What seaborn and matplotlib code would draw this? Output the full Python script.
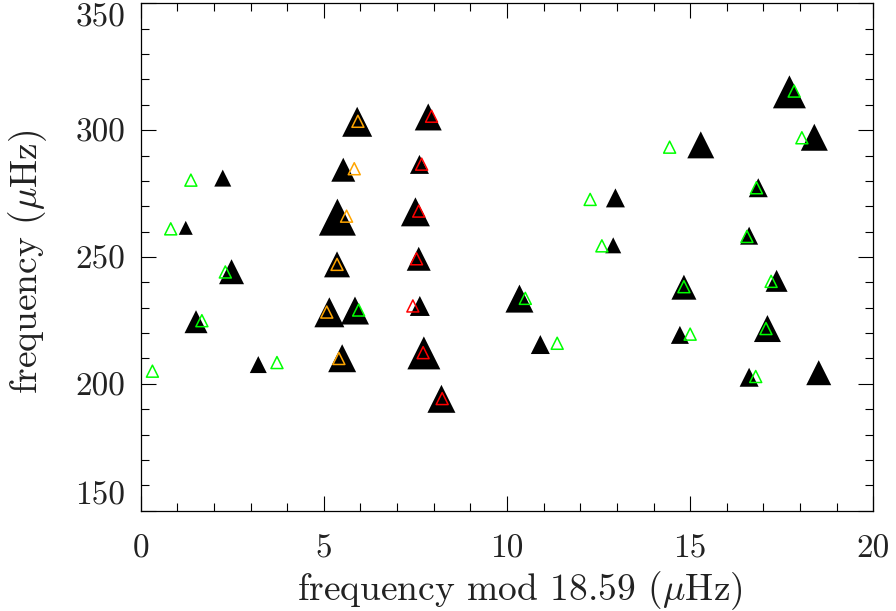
import numpy as np
import pandas as pd
import matplotlib
matplotlib.use("Agg")
import matplotlib.pyplot as plt
from matplotlib.ticker import MultipleLocator
import seaborn as sns

# Observed modes (filled black triangles, size ~ amplitude)
obs_x = [2.24, 1.23, 2.48, 5.91, 7.85, 5.53, 7.61, 5.37, 7.50, 5.36, 7.59, 5.15,
         5.85, 7.62, 1.51, 3.21, 5.50, 7.73, 8.21, 17.71, 18.39, 15.29, 16.86,
         12.96, 16.61, 12.90, 10.34, 10.91, 14.83, 17.36, 14.72, 17.11, 16.61, 18.51]
obs_y = [281.1, 261.5, 244.2, 303.3, 305.2, 284.4, 286.5, 265.7, 267.8, 247.1,
         249.3, 228.2, 228.9, 230.7, 224.5, 207.6, 210.1, 212.2, 194.1, 315.1,
         297.2, 294.2, 277.3, 273.3, 258.4, 254.6, 233.6, 215.5, 238.1, 240.6,
         219.3, 221.8, 202.6, 204.4]
obs_amp = [17, 14, 25, 30, 27, 24, 19, 37, 29, 26, 24, 30, 28, 20, 23, 17, 28,
           33, 28, 33, 27, 27, 19, 19, 18, 16, 28, 19, 25, 22, 18, 27, 19, 25]

# Model frequencies (open triangles)
l0_x = [1.37, 0.82, 2.31, 5.95, 1.67, 0.32, 3.72, 17.84, 18.05, 14.44, 16.81,
        12.27, 16.55, 12.59, 10.50, 11.37, 14.83, 17.21, 15.00, 17.07, 16.79]
l0_y = [280.3, 261.1, 244.1, 229.1, 224.9, 205.0, 208.4, 315.4, 297.0, 293.3,
        277.3, 272.7, 258.1, 254.4, 233.7, 216.0, 238.3, 240.4, 219.6, 221.8, 202.9]
l1a_x = [5.93, 5.83, 5.62, 5.36, 5.08, 5.41]
l1a_y = [303.5, 284.8, 266.1, 247.1, 228.3, 210.0]
l1b_x = [7.94, 7.67, 7.59, 7.53, 7.43, 7.71, 8.23]
l1b_y = [305.5, 286.6, 268.1, 249.3, 230.7, 212.3, 194.2]

x_ticks = [0, 5, 10, 15, 20]
y_ticks = [150, 200, 250, 300, 350]

sns.set_theme(style="white")
plt.rcParams["font.family"] = ["cmr10", "DejaVu Serif"]
plt.rcParams["mathtext.fontset"] = "cm"
plt.rcParams["axes.formatter.use_mathtext"] = True
plt.rcParams["axes.unicode_minus"] = False

TEXT = "#222222"

fig = plt.figure(figsize=(8.96, 6.11), dpi=100)
ax = fig.add_axes([140.7 / 896, 100.3 / 611, 732.6 / 896, 507.4 / 611])

PT_PER_AMP = 0.72
obs = pd.DataFrame({"x": obs_x, "y": obs_y,
                    "s": [(a * PT_PER_AMP) ** 2 for a in obs_amp]})
smin, smax = obs["s"].min(), obs["s"].max()
sns.scatterplot(data=obs, x="x", y="y", size="s", sizes=(smin, smax),
                size_norm=(smin, smax), marker="^", color="black",
                linewidth=0, legend=False, ax=ax, zorder=2)

open_s = (12 * PT_PER_AMP) ** 2
for xs, ys, col in [(l0_x, l0_y, "#00ff00"), (l1a_x, l1a_y, "#ffa500"),
                    (l1b_x, l1b_y, "#ff0000")]:
    sns.scatterplot(x=xs, y=ys, marker="^", s=open_s, color=col,
                    facecolor="none", edgecolor=col, linewidth=1.1,
                    legend=False, ax=ax, zorder=3)

ax.set_xlim(x_ticks[0], x_ticks[-1])
ax.set_ylim(y_ticks[0], y_ticks[-1])
ax.set_xticks(x_ticks)
ax.set_xticklabels([str(t) for t in x_ticks])
ax.set_yticks(y_ticks)
ax.set_yticklabels([str(t) for t in y_ticks])
ax.xaxis.set_minor_locator(MultipleLocator(1))
ax.yaxis.set_minor_locator(MultipleLocator(10))

for sp in ax.spines.values():
    sp.set_color("black")
    sp.set_linewidth(0.9)

ax.tick_params(which="both", direction="in", top=True, right=True,
               bottom=True, left=True, color="black", width=0.8,
               labelcolor=TEXT)
ax.tick_params(which="major", length=10.5)
ax.tick_params(which="minor", length=5.5)
ax.tick_params(axis="x", which="major", labelsize=24, pad=17)
ax.tick_params(axis="y", which="major", labelsize=24, pad=11)

ylabs = ax.get_yticklabels()
ylabs[0].set_va("bottom")
ylabs[-1].set_va("top")

ax.set_xlabel(r"frequency mod 18.59 ($\mu$Hz)", fontsize=27, color=TEXT,
              va="baseline")
ax.set_ylabel(r"frequency ($\mu$Hz)", fontsize=27, color=TEXT,
              va="baseline")
ax.xaxis.set_label_coords(0.517, -0.176)
ax.yaxis.set_label_coords(-0.142, 0.491)

fig.savefig("out.png", dpi=100)
